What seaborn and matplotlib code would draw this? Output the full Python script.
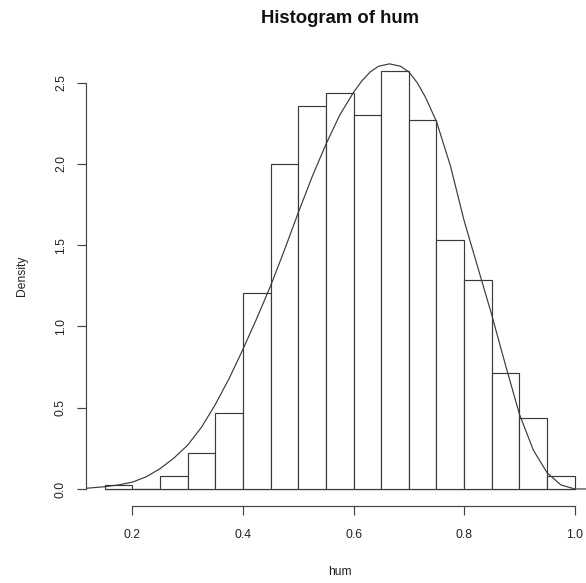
import numpy as np
import pandas as pd
import matplotlib
matplotlib.use("Agg")
import matplotlib.pyplot as plt
import seaborn as sns

# ---- data ----
bin_edges = [0.15, 0.20, 0.25, 0.30, 0.35, 0.40, 0.45, 0.50, 0.55, 0.60,
             0.65, 0.70, 0.75, 0.80, 0.85, 0.90, 0.95, 1.00]
bin_density = [0.027, 0.0, 0.082, 0.219, 0.465, 1.204, 1.997, 2.353, 2.435,
               2.298, 2.572, 2.271, 1.532, 1.286, 0.711, 0.438, 0.082]

curve_x = [0.116, 0.15, 0.175, 0.20, 0.225, 0.25, 0.275, 0.30, 0.325, 0.35,
           0.375, 0.40, 0.425, 0.45, 0.475, 0.50, 0.525, 0.55, 0.575, 0.60,
           0.615, 0.63, 0.645, 0.665, 0.685, 0.70, 0.715, 0.73, 0.75, 0.775,
           0.80, 0.825, 0.85, 0.875, 0.90, 0.925, 0.95, 0.975, 1.00, 1.034]
curve_y = [0.004, 0.014, 0.025, 0.042, 0.075, 0.125, 0.19, 0.27, 0.38, 0.52,
           0.68, 0.86, 1.05, 1.25, 1.47, 1.70, 1.92, 2.12, 2.30, 2.44,
           2.51, 2.565, 2.60, 2.615, 2.60, 2.565, 2.50, 2.41, 2.26, 1.99,
           1.65, 1.36, 1.07, 0.76, 0.46, 0.24, 0.10, 0.025, 0.0, 0.0]

x_ticks = [0.2, 0.4, 0.6, 0.8, 1.0]
x_ticklabels = ["0.2", "0.4", "0.6", "0.8", "1.0"]
y_ticks = [0.0, 0.5, 1.0, 1.5, 2.0, 2.5]
y_ticklabels = ["0.0", "0.5", "1.0", "1.5", "2.0", "2.5"]

title = "Histogram of hum"
xlabel = "hum"
ylabel = "Density"

# ---- plotting ----
sns.set_style("white")
plt.rcParams["font.family"] = ["Liberation Sans", "DejaVu Sans"]

W, H = 586, 583
fig = plt.figure(figsize=(W / 100, H / 100), dpi=100)
# plot region in pixels: left 86, right 593.5, top 46, bottom 506
ax = fig.add_axes([86 / W, 1 - 506 / H, (593.5 - 86) / W, (506 - 46) / H])

centers = [(a + b) / 2 for a, b in zip(bin_edges[:-1], bin_edges[1:])]
df = pd.DataFrame({"x": centers, "w": bin_density})
line_col = "#3a3a3a"
sns.histplot(data=df, x="x", weights="w", bins=bin_edges, stat="count",
             color="white", edgecolor=line_col, linewidth=0.85, alpha=1,
             ax=ax)
ax.plot([bin_edges[0], bin_edges[-1]], [0, 0], color=line_col, lw=0.85,
        zorder=0.5)

cdf = pd.DataFrame({"x": curve_x, "y": curve_y})
sns.lineplot(data=cdf, x="x", y="y", color="#3a3a3a", lw=0.85, ax=ax,
             sort=False, estimator=None)

ax.set_xlim(0.116, 1.034)
ax.set_ylim(-0.1048, 2.7248)

for s in ["top", "right"]:
    ax.spines[s].set_visible(False)
ax.spines["bottom"].set_bounds(0.2, 1.0)
ax.spines["left"].set_bounds(0.0, 2.5)
for s in ["bottom", "left"]:
    ax.spines[s].set_color("#444444")
    ax.spines[s].set_linewidth(0.85)

ax.set_xticks(x_ticks)
ax.set_xticklabels(x_ticklabels)
ax.set_yticks(y_ticks)
ax.set_yticklabels(y_ticklabels, rotation=90, va="center")
ax.tick_params(axis="both", direction="out", length=6.2, width=0.85,
               color="#444444", labelsize=8.7, labelcolor="#222222",
               bottom=True, left=True)
ax.tick_params(axis="x", pad=10.5)
ax.tick_params(axis="y", pad=7.5)

ax.set_xlabel(xlabel, fontsize=8.7, color="#222222", labelpad=18)
ax.set_ylabel(ylabel, fontsize=8.7, color="#222222", labelpad=19.5)
ax.set_title(title, fontsize=13.3, fontweight="bold", color="#111111", pad=16.5)

fig.savefig("out.png", dpi=100)
